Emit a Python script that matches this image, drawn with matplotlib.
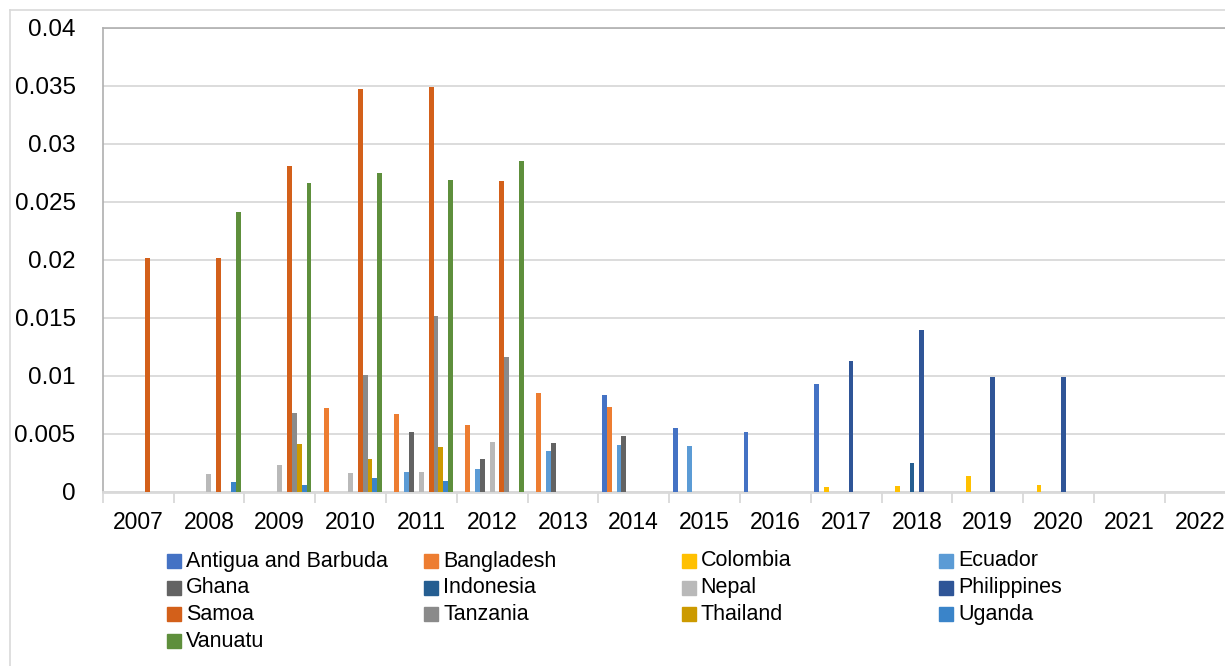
import numpy as np
import matplotlib
matplotlib.use("Agg")
import matplotlib.pyplot as plt
from matplotlib.patches import Rectangle
from matplotlib.lines import Line2D

plt.rcParams['font.family'] = ['Liberation Sans', 'DejaVu Sans']

years = [str(y) for y in range(2007, 2023)]

countries = ["Antigua and Barbuda", "Bangladesh", "Colombia", "Ecuador",
             "Ghana", "Indonesia", "Nepal", "Philippines",
             "Samoa", "Tanzania", "Thailand", "Uganda", "Vanuatu"]

colors = ["#4472C4", "#ED7D31", "#FFC000", "#5B9BD5",
          "#636363", "#255E91", "#B9B9B9", "#2F5597",
          "#D3601A", "#8A8A8A", "#CC9A00", "#3A84C9", "#5E8F3C"]

# one value per year, 2007 .. 2022
antigua     = [0, 0, 0, 0, 0, 0, 0, 0.00833, 0.00552, 0.00514, 0.00928, 0, 0, 0, 0, 0]
bangladesh  = [0, 0, 0, 0.00727, 0.00675, 0.00578, 0.00851, 0.00736, 0, 0, 0, 0, 0, 0, 0, 0]
colombia    = [0, 0, 0, 0, 0, 0, 0, 0, 0, 0, 0.00046, 0.00052, 0.00138, 0.00060, 0, 0]
ecuador     = [0, 0, 0, 0, 0.00172, 0.00201, 0.00351, 0.00402, 0.00397, 0, 0, 0, 0, 0, 0, 0]
ghana       = [0, 0, 0, 0, 0.00517, 0.00284, 0.00425, 0.00486, 0, 0, 0, 0, 0, 0, 0, 0]
indonesia   = [0, 0, 0, 0, 0, 0, 0, 0, 0, 0, 0, 0.00250, 0, 0, 0, 0]
nepal       = [0, 0.00153, 0.00230, 0.00160, 0.00175, 0.00428, 0, 0, 0, 0, 0, 0, 0, 0, 0, 0]
philippines = [0, 0, 0, 0, 0, 0, 0, 0, 0, 0, 0.01129, 0.01394, 0.00994, 0.00989, 0, 0]
samoa       = [0.02015, 0.02020, 0.02810, 0.03470, 0.03490, 0.02675, 0, 0, 0, 0, 0, 0, 0, 0, 0, 0]
tanzania    = [0, 0, 0.00678, 0.01006, 0.01517, 0.01164, 0, 0, 0, 0, 0, 0, 0, 0, 0, 0]
thailand    = [0, 0, 0.00414, 0.00282, 0.00388, 0, 0, 0, 0, 0, 0, 0, 0, 0, 0, 0]
uganda      = [0, 0.00089, 0.00058, 0.00118, 0.00095, 0, 0, 0, 0, 0, 0, 0, 0, 0, 0, 0]
vanuatu     = [0, 0.02410, 0.02660, 0.02744, 0.02684, 0.02853, 0, 0, 0, 0, 0, 0, 0, 0, 0, 0]

series = [antigua, bangladesh, colombia, ecuador, ghana, indonesia, nepal,
          philippines, samoa, tanzania, thailand, uganda, vanuatu]

W, H = 1225, 666
fig = plt.figure(figsize=(W / 100, H / 100), dpi=100)

# chart border (runs off the right and bottom edge)
border = "#D9D9D9"
fig.add_artist(Line2D([10 / W, 10 / W], [0, 1 - 10 / H], color=border, lw=1.2))
fig.add_artist(Line2D([10 / W, 1], [1 - 10 / H, 1 - 10 / H], color=border, lw=1.2))

left, right, top, bottom = 102.7, 1235.5, 27.7, 492
ax = fig.add_axes([left / W, 1 - bottom / H, (right - left) / W, (bottom - top) / H])

n = len(series)
x = np.arange(len(years))
w = 1 / (n + 1.5)
for j, vals in enumerate(series):
    ax.bar(x + (j - (n - 1) / 2) * w, vals, width=w, color=colors[j],
           linewidth=0, zorder=3)

ax.set_xlim(-0.5, len(years) - 0.5)
ax.set_ylim(0, 0.04)
ax.set_yticks(np.arange(0, 0.0401, 0.005))
ax.set_yticklabels(["0", "0.005", "0.01", "0.015", "0.02", "0.025", "0.03", "0.035", "0.04"])
ax.tick_params(axis='y', length=0, pad=19.5, labelsize=17.5)
ax.yaxis.grid(True, color=border, lw=1.3, zorder=0)

ax.set_xticks(x)
ax.set_xticklabels(years)
ax.tick_params(axis='x', which='major', length=0, pad=14, labelsize=16.5)
ax.set_xticks(np.arange(-0.5, len(years), 1), minor=True)
ax.tick_params(axis='x', which='minor', length=8, width=1.3, color=border)

for s in ["left", "top"]:
    ax.spines[s].set_color("#AFAFAF")
    ax.spines[s].set_linewidth(1.2)
ax.spines["right"].set_visible(False)
ax.spines["bottom"].set_color(border)
ax.spines["bottom"].set_linewidth(2)

# legend, four columns filled row by row
for k, name in enumerate(countries):
    row, col = k // 4, k % 4
    mx = 167 + col * 257.3
    my = 561 + row * 26.7
    fig.add_artist(Rectangle((mx / W, 1 - (my + 7) / H), 14 / W, 14 / H,
                             color=colors[k], transform=fig.transFigure))
    fig.text((mx + 19) / W, 1 - my / H, name, fontsize=15.5, va='center', ha='left')

fig.savefig("out.png", dpi=100)
